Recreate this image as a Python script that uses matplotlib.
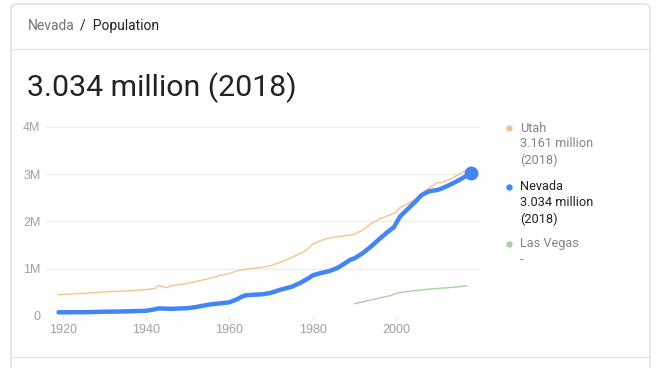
import matplotlib
matplotlib.use("Agg")
import matplotlib.pyplot as plt
from matplotlib.patches import FancyBboxPatch
from matplotlib.lines import Line2D

# population data (millions)
nv_years = [1919, 1925, 1930, 1935, 1940, 1942, 1943, 1945, 1946, 1948, 1950, 1952, 1955, 1958,
            1960, 1962, 1963, 1964, 1966, 1968, 1970, 1972, 1975, 1977, 1979, 1980, 1982, 1984,
            1986, 1988, 1989, 1990, 1992, 1994, 1996, 1998, 1999.5, 2000, 2001, 2003, 2005, 2006,
            2007, 2008, 2010, 2011, 2013, 2015, 2017, 2018]
nv_pop = [0.078, 0.08, 0.09, 0.097, 0.11, 0.14, 0.16, 0.155, 0.15, 0.16, 0.165, 0.19, 0.24, 0.27,
          0.29, 0.36, 0.41, 0.44, 0.45, 0.46, 0.49, 0.55, 0.62, 0.70, 0.80, 0.86, 0.91, 0.95,
          1.02, 1.13, 1.19, 1.22, 1.33, 1.47, 1.63, 1.78, 1.88, 1.96, 2.11, 2.28, 2.45, 2.55,
          2.60, 2.64, 2.67, 2.70, 2.78, 2.87, 2.97, 3.034]

ut_years = [1919, 1925, 1930, 1935, 1940, 1942, 1943, 1944, 1945, 1946, 1948, 1950, 1952, 1955,
            1958, 1960, 1962, 1965, 1968, 1970, 1972, 1975, 1978, 1979, 1980, 1982, 1984, 1986,
            1988, 1990, 1992, 1994, 1996, 1998, 2000, 2001, 2003, 2005, 2007, 2009, 2010, 2011,
            2013, 2015, 2017, 2018]
ut_pop = [0.45, 0.48, 0.51, 0.53, 0.56, 0.58, 0.64, 0.62, 0.60, 0.64, 0.66, 0.69, 0.73, 0.79,
          0.86, 0.90, 0.96, 1.00, 1.03, 1.07, 1.13, 1.24, 1.37, 1.43, 1.52, 1.60, 1.65, 1.68,
          1.70, 1.73, 1.82, 1.95, 2.05, 2.12, 2.19, 2.30, 2.38, 2.50, 2.65, 2.77, 2.83, 2.82,
          2.90, 2.99, 3.10, 3.161]

lv_years = [1990, 1993, 1996, 1999, 2000, 2002, 2005, 2008, 2011, 2014, 2017]
lv_pop = [0.26, 0.32, 0.38, 0.44, 0.48, 0.51, 0.54, 0.57, 0.59, 0.61, 0.64]

yticks = [0, 1, 2, 3, 4]
ytick_labels = ["0", "1M", "2M", "3M", "4M"]
xticks = [1920, 1940, 1960, 1980, 2000]

legend_names = ["Utah", "Nevada", "Las Vegas"]
legend_values = ["3.161 million\n(2018)", "3.034 million\n(2018)", "-"]

W, H = 661, 368
c_utah = "#f7c48c"
c_nv = "#4285f4"
c_lv = "#a8d4a0"
c_tick = "#a0a0a0"


def fx(x):
    return x / W


def fy(y):
    return 1 - y / H


fig = plt.figure(figsize=(W / 100, H / 100), dpi=100)
fig.patch.set_facecolor("white")

# card outline
card = FancyBboxPatch((fx(11), fy(380)), fx(650) - fx(11), fy(4) - fy(380),
                      boxstyle="round,pad=0,rounding_size=0.012", transform=fig.transFigure,
                      facecolor="white", edgecolor="#dadce0", linewidth=1, zorder=0)
fig.add_artist(card)
for yy in (48.5, 356.5):
    fig.add_artist(Line2D([fx(11), fx(650)], [fy(yy), fy(yy)], transform=fig.transFigure,
                          color="#e4e4e4", linewidth=1))

# header
fig.text(fx(28), fy(26), "Nevada", color="#70757a", fontsize=10, family="Roboto", va="center")
fig.text(fx(80), fy(26), "/  Population", color="#222222", fontsize=10, family="Roboto", va="center")
fig.text(fx(27), fy(88), "3.034 million (2018)", color="#222222", fontsize=21.8, family="Roboto",
         va="center")

# plot area
ax = fig.add_axes([fx(46), fy(316), fx(480) - fx(46), fy(127) - fy(316)])
ax.set_xlim(1916.0, 2020.15)
ax.set_ylim(0, 4)
ax.plot(ut_years, ut_pop, color=c_utah, linewidth=1.0, zorder=3)
ax.plot(lv_years, lv_pop, color=c_lv, linewidth=1.0, zorder=3)
ax.plot(nv_years, nv_pop, color=c_nv, linewidth=3.2, solid_capstyle="round",
        solid_joinstyle="round", zorder=4)
ax.plot(nv_years[-1], nv_pop[-1], "o", color=c_nv, markersize=9, zorder=5)

ax.set_yticks(yticks)
ax.set_yticklabels(ytick_labels)
ax.set_xticks(xticks)
ax.grid(axis="y", color="#ededed", linewidth=1)
ax.set_axisbelow(True)
for s in ax.spines.values():
    s.set_visible(False)
ax.tick_params(axis="y", length=0, pad=4, labelcolor=c_tick, labelsize=9)
ax.tick_params(axis="x", length=3, color="#e6e6e6", pad=3, labelcolor=c_tick, labelsize=9)
for lab in ax.get_xticklabels() + ax.get_yticklabels():
    lab.set_family("Liberation Sans")

# legend
colors = [c_utah, c_nv, c_lv]
tops = [128, 187, 244]
for name, val, col, top in zip(legend_names, legend_values, colors, tops):
    txtcol = "#222222" if name == "Nevada" else "#80868b"
    fig.add_artist(Line2D([fx(509)], [fy(top)], transform=fig.transFigure, marker="o",
                          markersize=3.6, color=col, linestyle="none"))
    fig.text(fx(520), fy(top), name, color=txtcol, fontsize=9.2, family="Roboto", va="center")
    fig.text(fx(520), fy(top + 9), val, color=txtcol, fontsize=9.2, family="Roboto", va="top",
             linespacing=1.3)

fig.savefig("out.png", dpi=100, facecolor="white")
